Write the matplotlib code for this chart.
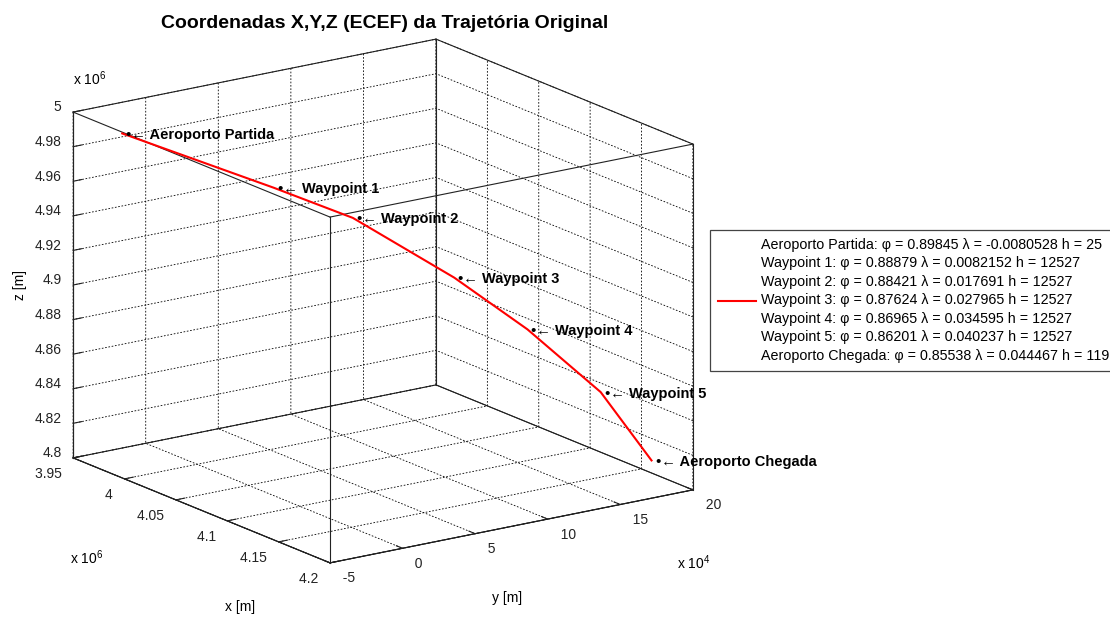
import numpy as np
import matplotlib
matplotlib.use("Agg")
import matplotlib.pyplot as plt
from matplotlib.ticker import FixedLocator, FuncFormatter

plt.rcParams['font.family'] = ['Liberation Sans', 'DejaVu Sans']
plt.rcParams['mathtext.fontset'] = 'custom'
plt.rcParams['mathtext.rm'] = 'Liberation Sans'
plt.rcParams['mathtext.it'] = 'Liberation Sans:italic'

# ---- flight plan (geodetic: phi, lambda in rad, h in m) ----
names = ["Aeroporto Partida", "Waypoint 1", "Waypoint 2", "Waypoint 3",
         "Waypoint 4", "Waypoint 5", "Aeroporto Chegada"]
phi = [0.89845, 0.88879, 0.88421, 0.87624, 0.86965, 0.86201, 0.85538]
lam = [-0.0080528, 0.0082152, 0.017691, 0.027965, 0.034595, 0.040237, 0.044467]
h = [25, 12527, 12527, 12527, 12527, 12527, 119]

# axis ranges / ticks
x_lim = (3.95e6, 4.20e6)
y_lim = (-5e4, 20e4)
z_lim = (4.80e6, 5.00e6)
x_ticks = [3.95e6, 4.00e6, 4.05e6, 4.10e6, 4.15e6, 4.20e6]
y_ticks = [-5e4, 0, 5e4, 10e4, 15e4, 20e4]
z_ticks = [4.80e6, 4.82e6, 4.84e6, 4.86e6, 4.88e6, 4.90e6,
           4.92e6, 4.94e6, 4.96e6, 4.98e6, 5.00e6]

# spherical earth -> ECEF
R_EARTH = 6378137.0
phi_a = np.array(phi)
lam_a = np.array(lam)
r = R_EARTH + np.array(h, dtype=float)
X = r * np.cos(phi_a) * np.cos(lam_a)
Y = r * np.cos(phi_a) * np.sin(lam_a)
Z = r * np.sin(phi_a)

W, H = 1110, 617
fig = plt.figure(figsize=(W / 100, H / 100), dpi=100)

# square axes, centred on the plot box
side = 704.6
cx, cy = 383, H - 301
ax = fig.add_axes([(cx - 0.5135 * side) / W, (cy - 0.5135 * side) / H,
                   side / W, side / H], projection='3d')
ax.patch.set_visible(False)
ax.set_proj_type('ortho')
ax.view_init(elev=16.66, azim=-35.05)
ax.set_box_aspect((1, 0.991, 0.807), zoom=1.0)
ax.computed_zorder = False

ax.set_xlim(*x_lim)
ax.set_ylim(*y_lim)
ax.set_zlim(*z_lim)

fmts = {'x': '%g ', 'y': '  %g', 'z': '%g'}
for name, axis, ticks, scale in (('x', ax.xaxis, x_ticks, 1e6),
                                 ('y', ax.yaxis, y_ticks, 1e4),
                                 ('z', ax.zaxis, z_ticks, 1e6)):
    axis.set_major_locator(FixedLocator(ticks))
    axis.set_major_formatter(
        FuncFormatter(lambda v, p, s=scale, f=fmts[name]: f % (v / s)))
    axis.set_pane_color((1, 1, 1, 0))
    axis.line.set_color('k')
    axis.line.set_linewidth(0.8)
    axis._axinfo['grid'].update(color='k', linewidth=0.6, linestyle=(0, (2, 2)))
    axis._axinfo['tick'].update(inward_factor=0.0, outward_factor=0.3)
ax.zaxis.set_ticks_position('lower')
ax.tick_params(labelsize=10, colors='#222222')
ax.tick_params(axis='x', pad=-2.5)
ax.tick_params(axis='y', pad=-3.0)
ax.tick_params(axis='z', pad=-3.0)
plt.setp(ax.xaxis.get_ticklabels(), ha='right')
plt.setp(ax.yaxis.get_ticklabels(), ha='left')
plt.setp(ax.zaxis.get_ticklabels(), ha='right', va='baseline')

# full box outline
edge_kw = dict(color='#222222', lw=0.8, zorder=1)
for a in (0, 1):
    for b in (0, 1):
        ax.plot(x_lim, [y_lim[a]] * 2, [z_lim[b]] * 2, **edge_kw)
        ax.plot([x_lim[a]] * 2, y_lim, [z_lim[b]] * 2, **edge_kw)
        ax.plot([x_lim[a]] * 2, [y_lim[b]] * 2, z_lim, **edge_kw)

# trajectory
label = "\n".join("%s: \u03c6 = %.5g \u03bb = %.5g h = %.5g" % (n, p, l, hh)
                  for n, p, l, hh in zip(names, phi, lam, h))
traj, = ax.plot(X, Y, Z, color='red', lw=1.5, zorder=3)

for xi, yi, zi, n in zip(X, Y, Z, names):
    ax.text(xi, yi, zi, " \u2022\u2190 " + n, fontsize=10.5, fontweight='bold',
            ha='left', va='center_baseline', zorder=4)

# axis labels and exponent markers
fig.text(240 / W, 1 - 607 / H, 'x [m]', fontsize=10, ha='center', va='center')
fig.text(507 / W, 1 - 598 / H, 'y [m]', fontsize=10, ha='center', va='center')
fig.text(20 / W, 1 - 285 / H, 'z [m]', fontsize=10, ha='center', va='center',
         rotation=90)
fig.text(73 / W, 1 - 79 / H, r'x 10$^{6}$', fontsize=10, va='center')
fig.text(70 / W, 1 - 558 / H, r'x 10$^{6}$', fontsize=10, va='center')
fig.text(677 / W, 1 - 563 / H, r'x 10$^{4}$', fontsize=10, va='center')

fig.text(385 / W, 1 - 28 / H, "Coordenadas X,Y,Z (ECEF) da Trajetória Original",
         fontsize=14, fontweight='bold', ha='center', va='baseline')

leg = ax.legend(handles=[traj], labels=[label], loc='upper left',
                bbox_to_anchor=(710 / W, 1 - 230 / H), bbox_transform=fig.transFigure,
                fontsize=10.3, handlelength=2.7, handletextpad=0.3,
                borderaxespad=0, borderpad=0.55, fancybox=False, framealpha=1)
leg.get_frame().set_edgecolor('#444444')
leg.get_frame().set_linewidth(0.9)
for t in leg.get_texts():
    t.set_linespacing(1.41)

fig.savefig('out.png', dpi=100)
